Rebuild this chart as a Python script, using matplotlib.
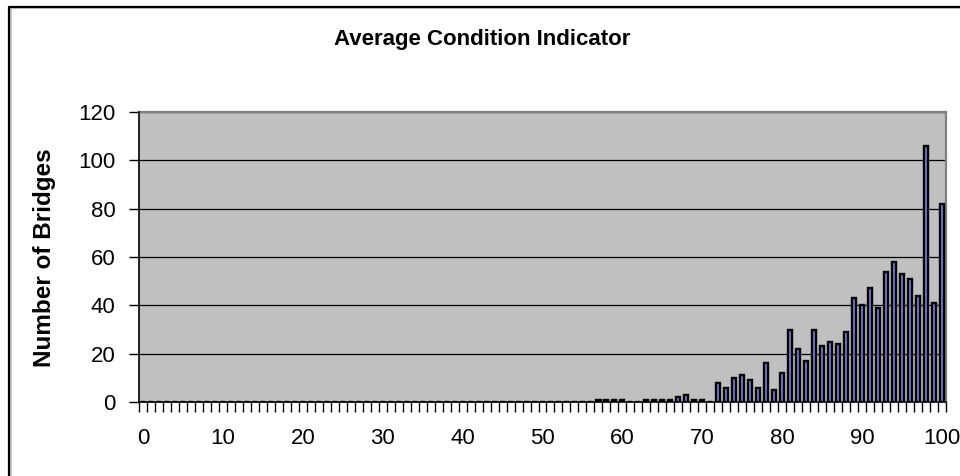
import matplotlib
matplotlib.use("Agg")
import matplotlib.pyplot as plt
from matplotlib.lines import Line2D
import numpy as np

plt.rcParams['font.family'] = ['Liberation Sans', 'DejaVu Sans']

title = "Average Condition Indicator"
ylabel = "Number of Bridges"

categories = list(range(0, 101))
counts = [0] * 57 + [
    1, 1, 1, 1,      # 57-60
    0, 0,            # 61-62
    1, 1, 1, 1,      # 63-66
    2, 3, 1, 1,      # 67-70
    0,               # 71
    8, 6, 10, 11, 9, 6, 16, 5, 12,        # 72-80
    30, 22, 17, 30, 23, 25, 24, 29, 43, 40,  # 81-90
    47, 39, 54, 58, 53, 51, 44, 106, 41, 82  # 91-100
]
xtick_values = list(range(0, 101, 10))
ytick_values = list(range(0, 121, 20))

W, H = 960, 476
fig = plt.figure(figsize=(W / 100, H / 100), dpi=100)
fig.patch.set_facecolor("white")

ax = fig.add_axes([139 / W, 1 - 402 / H, (946 - 139) / W, (402 - 112) / H])
ax.set_facecolor("#C0C0C0")

ax.bar(categories, counts, width=0.52, color="#8080F0", edgecolor="black",
       linewidth=1.7, zorder=3)

ax.set_xlim(-0.5, 100.5)
ax.set_ylim(0, 120)

# y axis
ax.set_yticks(ytick_values)
ax.set_yticklabels([str(v) for v in ytick_values], fontsize=16)
ax.yaxis.grid(True, color="black", linewidth=0.9, zorder=1)
ax.set_axisbelow(True)
ax.tick_params(axis="y", direction="out", length=7, width=1, pad=10)

# x axis: labels at category centres, ticks between categories
ax.set_xticks(xtick_values)
ax.set_xticklabels([str(v) for v in xtick_values], fontsize=16)
ax.tick_params(axis="x", which="major", length=0, pad=19)
ax.set_xticks(np.arange(-0.5, 101, 1.0), minor=True)
ax.tick_params(axis="x", which="minor", direction="out", length=7, width=1,
               color="black")

for s in ["top", "right"]:
    ax.spines[s].set_color("#808080")
    ax.spines[s].set_linewidth(1.6)
for s in ["left", "bottom"]:
    ax.spines[s].set_color("black")
    ax.spines[s].set_linewidth(1.2)
    ax.spines[s].set_zorder(5)

fig.text(482 / W, 1 - 39 / H, title, ha="center", va="center",
         fontsize=16, fontweight="bold")
fig.text(45 / W, 1 - 258 / H, ylabel, ha="center", va="center",
         rotation=90, fontsize=17.5, fontweight="bold")

# outer chart border (left and top visible)
x0, y0 = 9 / W, 1 - 7 / H
fig.add_artist(Line2D([x0 + 1.5 / W, x0 + 1.5 / W, 1], [0, y0 - 1.5 / H, y0 - 1.5 / H],
                      transform=fig.transFigure, color="#C8C8C8", linewidth=1.5))
fig.add_artist(Line2D([x0, x0, 1], [0, y0, y0], transform=fig.transFigure,
                      color="black", linewidth=1.6))

fig.savefig("out.png", dpi=100)
